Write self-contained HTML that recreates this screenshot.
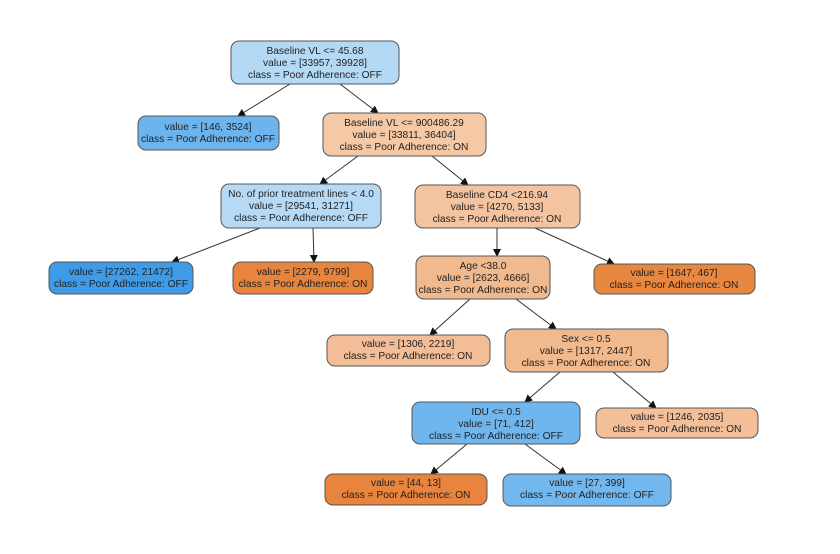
<!DOCTYPE html>
<html><head><meta charset="utf-8"><style>
html,body{margin:0;padding:0;background:#fff;}
svg{display:block;}
text{font-family:"Liberation Sans",sans-serif;font-size:10.2px;fill:#222;text-anchor:middle;}
rect{stroke:#555;stroke-width:1;}
line{stroke:#333;stroke-width:1;}
</style></head><body>
<svg width="840" height="554" viewBox="0 0 840 554">
<defs><marker id="a" markerWidth="8" markerHeight="8" refX="7" refY="4" orient="auto" markerUnits="userSpaceOnUse"><path d="M0,0 L8,4 L0,8 z" fill="#111"/></marker></defs>
<g marker-end="url(#a)">
<line x1="290" y1="84" x2="238" y2="116"/>
<line x1="340" y1="84" x2="378" y2="113"/>
<line x1="358" y1="156" x2="320" y2="184"/>
<line x1="432" y1="156" x2="468" y2="185"/>
<line x1="260" y1="228" x2="172" y2="262"/>
<line x1="313" y1="228" x2="314" y2="262"/>
<line x1="497" y1="228" x2="497" y2="256"/>
<line x1="535" y1="228" x2="614" y2="264"/>
<line x1="470" y1="299" x2="430" y2="335"/>
<line x1="516" y1="299" x2="556" y2="329"/>
<line x1="560" y1="372" x2="525" y2="402"/>
<line x1="613" y1="372" x2="656" y2="408"/>
<line x1="467" y1="444" x2="431" y2="474"/>
<line x1="525" y1="444" x2="566" y2="474"/>
</g>
<rect x="231" y="41" width="168" height="43" rx="8" fill="#b4d9f5"/>
<text x="315" y="54">Baseline VL &lt;= 45.68</text><text x="315" y="66">value = [33957, 39928]</text><text x="315" y="78">class = Poor Adherence: OFF</text>
<rect x="138" y="116" width="141" height="34" rx="8" fill="#6cb4ee"/>
<text x="208" y="130">value = [146, 3524]</text><text x="208" y="142">class = Poor Adherence: OFF</text>
<rect x="323" y="113" width="163" height="43" rx="8" fill="#f5c9a6"/>
<text x="404" y="126">Baseline VL &lt;= 900486.29</text><text x="404" y="138">value = [33811, 36404]</text><text x="404" y="150">class = Poor Adherence: ON</text>
<rect x="221" y="184" width="160" height="44" rx="8" fill="#b6daf5"/>
<text x="301" y="197">No. of prior treatment lines &lt; 4.0</text><text x="301" y="209">value = [29541, 31271]</text><text x="301" y="221">class = Poor Adherence: OFF</text>
<rect x="415" y="185" width="165" height="43" rx="8" fill="#f4c4a0"/>
<text x="497" y="198">Baseline CD4 &lt;216.94</text><text x="497" y="210">value = [4270, 5133]</text><text x="497" y="222">class = Poor Adherence: ON</text>
<rect x="49" y="262" width="144" height="32" rx="8" fill="#3d9be8"/>
<text x="121" y="275">value = [27262, 21472]</text><text x="121" y="287">class = Poor Adherence: OFF</text>
<rect x="233" y="262" width="140" height="32" rx="8" fill="#e8843e"/>
<text x="303" y="275">value = [2279, 9799]</text><text x="303" y="287">class = Poor Adherence: ON</text>
<rect x="416" y="256" width="134" height="43" rx="8" fill="#f1b98e"/>
<text x="483" y="269">Age &lt;38.0</text><text x="483" y="281">value = [2623, 4666]</text><text x="483" y="293">class = Poor Adherence: ON</text>
<rect x="594" y="264" width="161" height="30" rx="8" fill="#e8873f"/>
<text x="674" y="276">value = [1647, 467]</text><text x="674" y="288">class = Poor Adherence: ON</text>
<rect x="327" y="335" width="163" height="31" rx="8" fill="#f3be97"/>
<text x="408" y="347">value = [1306, 2219]</text><text x="408" y="359">class = Poor Adherence: ON</text>
<rect x="505" y="329" width="163" height="43" rx="8" fill="#f1b98e"/>
<text x="586" y="342">Sex &lt;= 0.5</text><text x="586" y="354">value = [1317, 2447]</text><text x="586" y="366">class = Poor Adherence: ON</text>
<rect x="412" y="402" width="168" height="42" rx="8" fill="#6fb6ef"/>
<text x="496" y="415">IDU &lt;= 0.5</text><text x="496" y="427">value = [71, 412]</text><text x="496" y="439">class = Poor Adherence: OFF</text>
<rect x="596" y="408" width="162" height="30" rx="8" fill="#f3bf98"/>
<text x="677" y="420">value = [1246, 2035]</text><text x="677" y="432">class = Poor Adherence: ON</text>
<rect x="325" y="474" width="162" height="31" rx="8" fill="#e8843e"/>
<text x="406" y="486">value = [44, 13]</text><text x="406" y="498">class = Poor Adherence: ON</text>
<rect x="503" y="474" width="168" height="32" rx="8" fill="#72b8ef"/>
<text x="587" y="486">value = [27, 399]</text><text x="587" y="498">class = Poor Adherence: OFF</text>
</svg>
</body></html>
